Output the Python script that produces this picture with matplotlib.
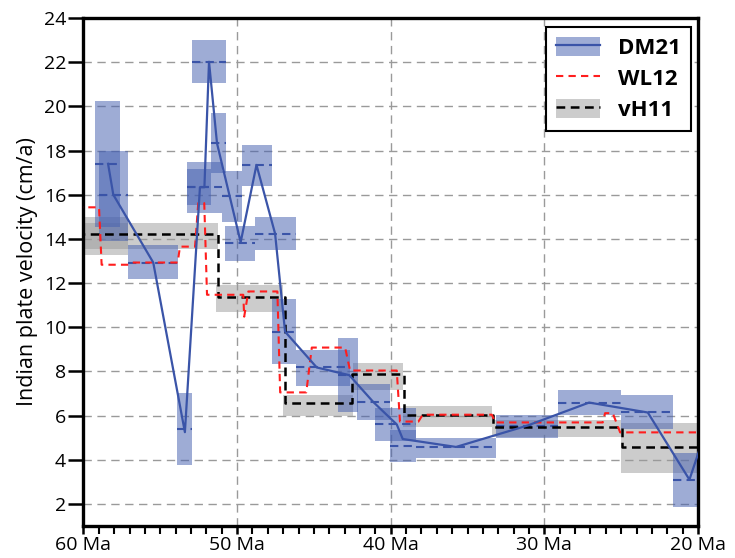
import matplotlib
matplotlib.use("Agg")
import matplotlib.pyplot as plt
from matplotlib import font_manager
from matplotlib.patches import Rectangle, Patch
from matplotlib.lines import Line2D
from matplotlib.ticker import MultipleLocator, FixedLocator

# ---------------- data ----------------
# DM21 boxes: older age, younger age, low velocity, high velocity, mean velocity
dm_old   = [59.25, 58.99, 57.08, 53.93, 53.28, 53.28, 52.94, 51.70, 51.00, 50.79, 49.70, 48.84, 47.75, 46.19, 43.45, 42.21, 41.03, 40.05, 38.37, 33.14, 29.10, 25.03, 21.64]
dm_young = [57.62, 57.12, 53.87, 52.96, 51.00, 51.72, 50.74, 50.74, 49.70, 48.84, 47.75, 46.20, 46.20, 42.64, 42.15, 40.05, 38.37, 38.37, 33.14, 29.10, 25.03, 21.64, 19.50]
dm_low   = [14.54, 13.90, 12.18, 3.77, 15.19, 15.54, 21.07, 16.97, 14.78, 13.02, 16.41, 13.50, 8.34, 7.36, 6.14, 5.78, 4.87, 3.88, 4.10, 4.98, 6.04, 5.39, 1.86]
dm_high  = [20.24, 17.98, 13.73, 7.02, 17.50, 17.17, 23.00, 19.69, 17.08, 14.59, 18.25, 14.98, 11.29, 8.98, 9.53, 7.44, 6.34, 5.36, 4.98, 6.04, 7.14, 6.94, 4.30]
dm_mean  = [17.40, 16.00, 12.93, 5.39, 16.34, 16.34, 22.02, 18.33, 15.95, 13.83, 17.35, 14.24, 9.80, 8.18, 7.83, 6.61, 5.60, 4.62, 4.58, 5.52, 6.59, 6.14, 3.10]

# DM21 connecting line
dm_line_age = [58.40, 58.06, 55.46, 53.40, 52.42, 52.13, 51.83, 51.31, 49.77, 48.74, 47.53, 46.88, 44.82, 42.70, 41.13, 39.61, 39.22, 35.75, 31.10, 27.09, 23.27, 20.56, 19.50]
dm_line_vel = [17.40, 16.00, 12.93, 5.25, 16.34, 16.34, 22.02, 18.33, 13.85, 17.35, 14.24, 9.80, 8.18, 7.83, 6.61, 5.60, 4.94, 4.58, 5.55, 6.59, 6.14, 3.10, 5.30]

# WL12 curve
wl_age = [60.5, 58.99, 58.82, 57.08, 56.86, 53.87, 53.72, 52.74, 52.53, 52.14, 51.96, 49.60, 49.54, 49.27, 47.38, 47.20, 45.50, 45.14, 42.97, 42.65, 39.61, 39.40, 38.20, 37.92, 33.42, 33.20, 26.20, 26.05, 25.55, 25.07, 19.5]
wl_vel = [15.43, 15.43, 12.83, 12.83, 12.93, 12.93, 13.65, 13.65, 15.62, 15.62, 11.47, 11.47, 10.48, 11.62, 11.62, 7.05, 7.05, 9.08, 9.08, 8.04, 8.04, 5.73, 5.73, 6.04, 6.04, 5.69, 5.69, 6.11, 6.11, 5.24, 5.24]

# vH11 steps: older age, younger age, mean velocity
vh_old   = [60.5, 51.26, 46.88, 42.54, 39.13, 33.32, 24.96]
vh_young = [51.26, 46.88, 42.54, 39.13, 33.32, 24.96, 19.5]
vh_mean  = [14.20, 11.36, 6.57, 7.88, 6.04, 5.50, 4.60]
# vH11 uncertainty boxes: older age, younger age, low, high
vhb_old   = [60.5, 60.5, 51.37, 46.99, 42.47, 39.22, 33.39, 25.00]
vhb_young = [57.10, 51.26, 46.99, 42.47, 39.22, 33.39, 25.00, 19.5]
vhb_low   = [13.27, 13.53, 10.67, 5.99, 7.14, 5.50, 5.05, 3.40]
vhb_high  = [15.00, 14.71, 11.92, 6.94, 8.38, 6.44, 5.81, 5.66]

xticks = [60, 50, 40, 30, 20]
xticklabels = ["60 Ma", "50 Ma", "40 Ma", "30 Ma", "20 Ma"]
yticks = [2, 4, 6, 8, 10, 12, 14, 16, 18, 20, 22, 24]
legend_labels = ["DM21", "WL12", "vH11"]
ylabel = "Indian plate velocity (cm/a)"

# ---------------- style ----------------
avail = {f.name for f in font_manager.fontManager.ttflist}
fam = None
for cand in ["Liberation Sans Narrow", "Open Sans", "Lato", "DejaVu Sans"]:
    if cand in avail:
        fam = cand
        break
plt.rcParams['font.family'] = [fam, 'DejaVu Sans']

BLUE = "#3a54a8"
BOXBLUE = "#4560b0"
RED = "#ff1e1e"
GREY = "#9a9a9a"

fig = plt.figure(figsize=(7.35, 5.58), dpi=100)
ax = fig.add_axes([0.1136, 0.0573, 0.8361, 0.9104])

# grid
for yv in yticks[:-1]:
    ax.axhline(yv, color="#9a9a9a", lw=1.0, dashes=(6, 4), zorder=0.5)
for xv in xticks[1:-1]:
    ax.axvline(xv, color="#9a9a9a", lw=1.0, dashes=(6, 4), zorder=0.5)

# vH11 boxes
for o, y_, lo, hi in zip(vhb_old, vhb_young, vhb_low, vhb_high):
    ax.add_patch(Rectangle((y_, lo), o - y_, hi - lo, facecolor=GREY, alpha=0.5,
                           edgecolor="none", zorder=1))

# DM21 boxes
for o, y_, lo, hi, m in zip(dm_old, dm_young, dm_low, dm_high, dm_mean):
    ax.add_patch(Rectangle((y_, lo), o - y_, hi - lo, facecolor=BOXBLUE, alpha=0.52,
                           edgecolor="none", zorder=2))
    ax.plot([o, y_], [m, m], color=BLUE, lw=1.5, dashes=(4, 2.5), zorder=3)

# vH11 step line
vx, vy = [], []
for o, y_, m in zip(vh_old, vh_young, vh_mean):
    vx += [o, y_]
    vy += [m, m]
ax.plot(vx, vy, color="black", lw=1.8, dashes=(3.5, 2.2), zorder=4)

# WL12
ax.plot(wl_age, wl_vel, color=RED, lw=1.5, dashes=(3.5, 2.5), zorder=5)

# DM21 line
ax.plot(dm_line_age, dm_line_vel, color=BLUE, lw=1.6, zorder=6)

ax.set_xlim(60, 20)
ax.set_ylim(1, 24)

ax.xaxis.set_major_locator(FixedLocator(xticks))
ax.set_xticklabels(xticklabels)
ax.xaxis.set_minor_locator(MultipleLocator(1))
ax.set_yticks(yticks)
ax.tick_params(axis="y", which="major", direction="out", length=11, width=1.8,
               labelsize=14, pad=1.5, colors="black")
ax.tick_params(axis="x", which="major", direction="out", length=5.5, width=1.8,
               labelsize=14, pad=2, colors="black")
ax.tick_params(axis="x", which="minor", direction="out", length=5.5, width=1.5)
ax.tick_params(axis="y", which="minor", left=False)
for s in ax.spines.values():
    s.set_linewidth(2.4)
    s.set_color("black")

ax.set_ylabel(ylabel, fontsize=15.5, labelpad=4)

# legend
h_dm = (Patch(facecolor=BOXBLUE, alpha=0.52, edgecolor="none"), Line2D([], [], color=BLUE, lw=1.6))
h_wl = Line2D([], [], color=RED, lw=1.5, dashes=(3.5, 2.5))
h_vh = (Patch(facecolor=GREY, alpha=0.5, edgecolor="none"), Line2D([], [], color="black", lw=1.8, dashes=(3.5, 2.2)))
leg = ax.legend([h_dm, h_wl, h_vh], legend_labels, loc="upper right",
                bbox_to_anchor=(0.988, 0.983), borderaxespad=0, fancybox=False,
                framealpha=1, edgecolor="black", handlelength=2.0, handleheight=0.95,
                labelspacing=0.4, borderpad=0.45, handletextpad=0.8,
                prop={"size": 16, "weight": "bold"})
leg.get_frame().set_linewidth(1.5)
leg.set_zorder(10)

fig.savefig("out.png", dpi=100)
